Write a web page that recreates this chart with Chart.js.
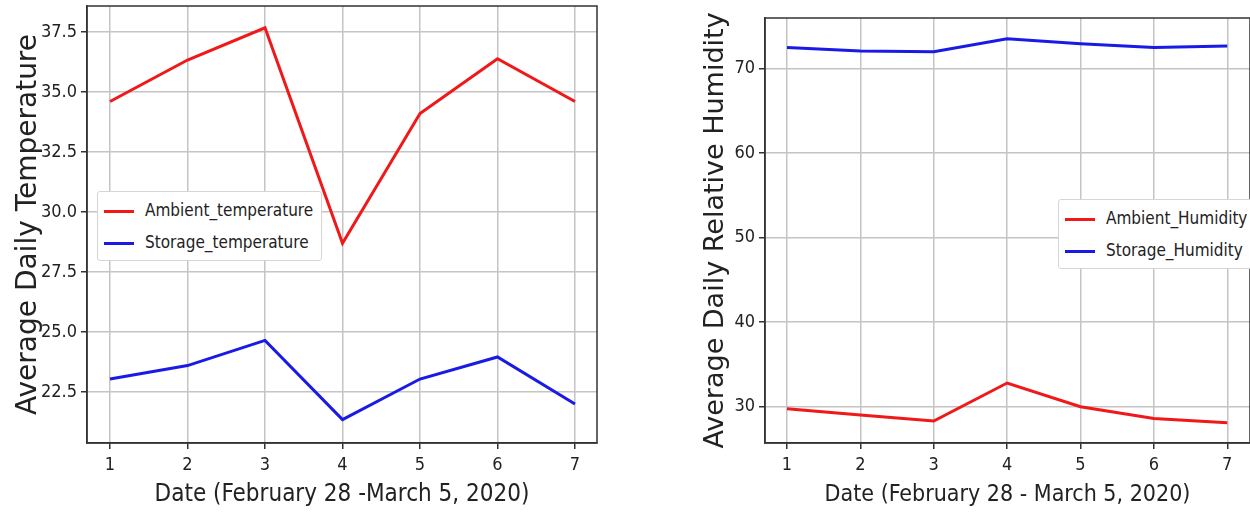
<!DOCTYPE html>
<html>
<head>
<meta charset="utf-8">
<script src="https://cdn.jsdelivr.net/npm/chart.js@4.4.0/dist/chart.umd.min.js"></script>
<style>
    body { margin: 0; background: #fff; width: 1250px; height: 515px; overflow: hidden; position: relative; }
    .box { position: absolute; top: 0; height: 515px; }
    .legend {
        position: absolute; background: #fff; border: 1px solid #d6d6d6; border-radius: 3px;
        font-family: 'Liberation Sans Narrow', 'DejaVu Sans Condensed', sans-serif; font-size: 17px; color: #222;
        padding: 2px 8px 2px 6px;
    }
    .legend div { height: 32px; line-height: 32px; white-space: nowrap; }
    .legend span { display: inline-block; width: 30px; height: 3px; vertical-align: middle; margin-right: 11px; }
</style>
</head>
<body>
<div class="box" style="left:0;width:610px;"><canvas id="tempChart"></canvas></div>
<div class="box" style="left:690px;width:560px;"><canvas id="humChart"></canvas></div>
<div class="legend" id="tempLegend" style="left:97px;top:191px;"></div>
<div class="legend" id="humLegend" style="left:1058px;top:199px;"></div>
<script>
const days = [1, 2, 3, 4, 5, 6, 7];
const ambientTemp = [34.6, 36.33, 37.67, 28.7, 34.1, 36.38, 34.6];
const storageTemp = [23.04, 23.6, 24.65, 21.35, 23.04, 23.96, 22.0];
const ambientHum = [29.75, 29.0, 28.3, 32.8, 30.0, 28.6, 28.1];
const storageHum = [72.5, 72.1, 72.0, 73.55, 72.95, 72.5, 72.7];
const tempTicks = [22.5, 25.0, 27.5, 30.0, 32.5, 35.0, 37.5];
const humTicks = [30, 40, 50, 60, 70];

const narrow = "'Liberation Sans Narrow', 'DejaVu Sans Condensed', sans-serif";
const wide = "'DejaVu Sans', Verdana, sans-serif";

// matplotlib style box round the plot
const framePlugin = {
    id: 'frame',
    afterDatasetsDraw(chart) {
        const {ctx, chartArea: a} = chart;
        ctx.save();
        ctx.strokeStyle = '#333';
        ctx.lineWidth = 1.5;
        ctx.strokeRect(a.left, a.top, a.right - a.left, a.bottom - a.top);
        ctx.restore();
    }
};

function pts(values) {
    return days.map((d, i) => ({x: d, y: values[i]}));
}

function makeChart(id, opts) {
    return new Chart(document.getElementById(id), {
        type: 'line',
        data: {
            datasets: [{
                label: opts.labels[0],
                data: pts(opts.red),
                borderColor: '#f01818',
                borderWidth: 3,
                pointRadius: 0,
                tension: 0
            }, {
                label: opts.labels[1],
                data: pts(opts.blue),
                borderColor: '#1a1ae6',
                borderWidth: 3,
                pointRadius: 0,
                tension: 0
            }]
        },
        plugins: [framePlugin],
        options: {
            responsive: true,
            maintainAspectRatio: false,
            animation: false,
            layout: { padding: opts.padding },
            plugins: { legend: { display: false }, tooltip: { enabled: false } },
            scales: {
                x: {
                    type: 'linear',
                    min: opts.xMin,
                    max: opts.xMax,
                    afterBuildTicks: scale => { scale.ticks = days.map(v => ({value: v})); },
                    afterFit: scale => { scale.height = 72; },
                    grid: { color: '#c4c4c4', lineWidth: 1.5, tickLength: 6, tickColor: '#333' },
                    border: { display: true, color: '#333', width: 1.5 },
                    ticks: { color: '#222', padding: 6, font: { family: narrow, size: 18 } },
                    title: {
                        display: true,
                        text: opts.xTitle,
                        color: '#222',
                        font: { family: narrow, size: opts.xTitleSize },
                        padding: { bottom: 6 }
                    }
                },
                y: {
                    min: opts.yMin,
                    max: opts.yMax,
                    afterBuildTicks: scale => { scale.ticks = opts.yTicks.map(v => ({value: v})); },
                    afterFit: scale => {
                        scale.width = opts.yWidth;
                        scale.paddingTop = 0;
                        scale.paddingBottom = 0;
                    },
                    grid: { color: '#c4c4c4', lineWidth: 1.5, tickLength: 6, tickColor: '#333' },
                    border: { display: true, color: '#333', width: 1.5 },
                    ticks: {
                        color: '#222',
                        padding: 4,
                        font: { family: narrow, size: 18 },
                        callback: v => opts.decimals ? v.toFixed(1) : String(v)
                    },
                    title: {
                        display: true,
                        text: opts.yTitle,
                        color: '#222',
                        font: { family: wide, size: opts.yTitleSize },
                        padding: { top: opts.titlePad }
                    }
                }
            }
        }
    });
}

function buildLegend(id, chart) {
    const el = document.getElementById(id);
    chart.data.datasets.forEach(ds => {
        const row = document.createElement('div');
        row.innerHTML = '<span style="background:' + ds.borderColor + '"></span>' + ds.label;
        el.appendChild(row);
    });
}

const tempChart = makeChart('tempChart', {
    labels: ['Ambient_temperature', 'Storage_temperature'],
    red: ambientTemp,
    blue: storageTemp,
    padding: { top: 6, right: 13, left: 0, bottom: 0 },
    xMin: 0.703, xMax: 7.284,
    yMin: 20.375, yMax: 38.58,
    yTicks: tempTicks,
    yWidth: 87,
    decimals: true,
    titlePad: 12,
    yTitleSize: 28,
    xTitleSize: 24,
    xTitle: 'Date (February 28 -March 5, 2020)',
    yTitle: 'Average Daily Temperature'
});

const humChart = makeChart('humChart', {
    labels: ['Ambient_Humidity', 'Storage_Humidity'],
    red: ambientHum,
    blue: storageHum,
    padding: { top: 18, right: 0, left: 0, bottom: 0 },
    xMin: 0.7, xMax: 7.31,
    yMin: 25.7, yMax: 76.0,
    yTicks: humTicks,
    yWidth: 75,
    decimals: false,
    titlePad: 10,
    yTitleSize: 27,
    xTitleSize: 23,
    xTitle: 'Date (February 28 - March 5, 2020)',
    yTitle: 'Average Daily Relative Humidity'
});

buildLegend('tempLegend', tempChart);
buildLegend('humLegend', humChart);
</script>
</body>
</html>
